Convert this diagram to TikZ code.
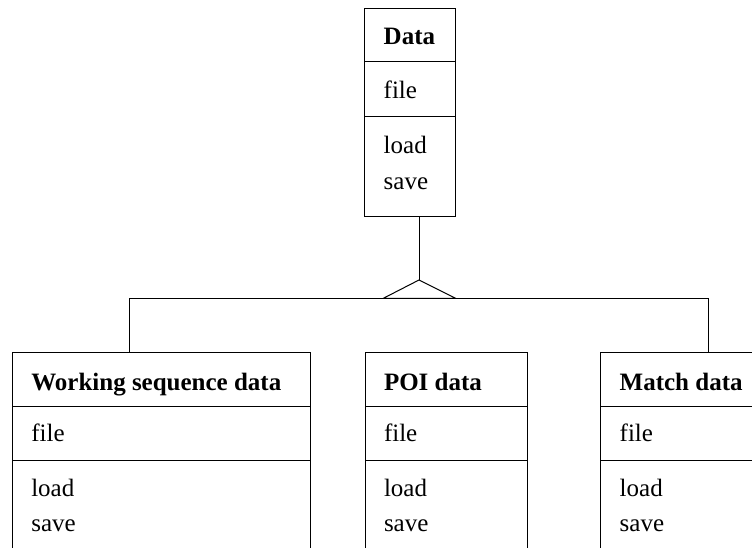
\documentclass[tikz,border=0pt]{standalone}
\usepackage{fontspec}
\setmainfont{Liberation Serif}
\begin{document}
\begin{tikzpicture}[x=1pt,y=-1pt,line width=1pt,
  comp/.style={draw, inner sep=0pt, outer sep=0pt, anchor=north west},
  txt/.style={inner sep=0pt, anchor=base west, font=\fontsize{25}{30}\selectfont},
  ttl/.style={inner sep=0pt, anchor=base west, font=\fontsize{25}{30}\selectfont\bfseries}]
\useasboundingbox (0,0) rectangle (752,548);
\clip (0,0) rectangle (752,548);
% Data class
\node[comp, minimum width=91pt, minimum height=53.3pt] (dH) at (364.7,8.7) {};
\node[comp, minimum width=91pt, minimum height=55pt] (dA) at (364.7,62) {};
\node[comp, minimum width=91pt, minimum height=99.7pt] (dM) at (364.7,117) {};
\node[ttl] (dT) at (383.2,45) {Data};
\node[txt] (dF) at (383.2,98.3) {file};
\node[txt] (dL) at (383.2,153.3) {load};
\node[txt] (dS) at (383.2,189.5) {save};
% Working sequence data
\node[comp, minimum width=298.4pt, minimum height=54.4pt] (wH) at (12.3,352.3) {};
\node[comp, minimum width=298.4pt, minimum height=54pt] (wA) at (12.3,406.7) {};
\node[comp, minimum width=298.4pt, minimum height=140pt] (wM) at (12.3,460.7) {};
\node[ttl] (wT) at (30.8,390) {Working sequence data};
\node[txt] (wF) at (30.8,441.7) {file};
\node[txt] (wL) at (30.8,496.7) {load};
\node[txt] (wS) at (30.8,531.7) {save};
% POI data
\node[comp, minimum width=162.7pt, minimum height=54.4pt] (pH) at (365,352.3) {};
\node[comp, minimum width=162.7pt, minimum height=54pt] (pA) at (365,406.7) {};
\node[comp, minimum width=162.7pt, minimum height=140pt] (pM) at (365,460.7) {};
\node[ttl] (pT) at (383.5,390) {POI data};
\node[txt] (pF) at (383.5,441.7) {file};
\node[txt] (pL) at (383.5,496.7) {load};
\node[txt] (pS) at (383.5,531.7) {save};
% Match data
\node[comp, minimum width=200pt, minimum height=54.4pt] (mH) at (600.7,352.3) {};
\node[comp, minimum width=200pt, minimum height=54pt] (mA) at (600.7,406.7) {};
\node[comp, minimum width=200pt, minimum height=140pt] (mM) at (600.7,460.7) {};
\node[ttl] (mT) at (619.2,390) {Match data};
\node[txt] (mF) at (619.2,441.7) {file};
\node[txt] (mL) at (619.2,496.7) {load};
\node[txt] (mS) at (619.2,531.7) {save};
% generalization connector
\coordinate (apex) at (419,280);
\coordinate (tl) at (383.3,298.3);
\coordinate (tr) at (455.7,298.3);
\coordinate (bl) at (129.7,298.3);
\coordinate (br) at (708.7,298.3);
\draw (dM.south -| apex) -- (apex);
\draw (apex) -- (tl) -- (tr) -- cycle;
\draw (bl |- wH.north) -- (bl) -- (br) -- (br |- mH.north);
\end{tikzpicture}
\end{document}
